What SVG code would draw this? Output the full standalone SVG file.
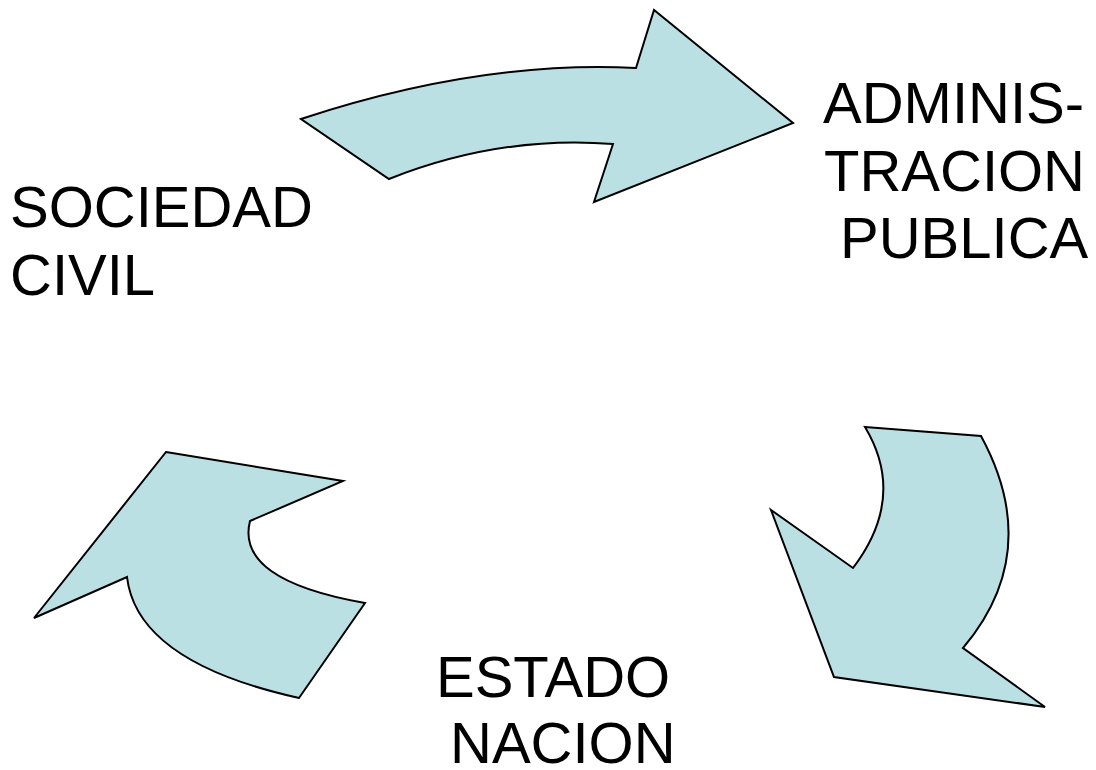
<svg xmlns="http://www.w3.org/2000/svg" width="1096" height="770" viewBox="0 0 1096 770">
<style>
.arrow{fill:#bbe0e3;stroke:#000;stroke-width:2;stroke-linejoin:miter}
.lbl{font-family:"Liberation Sans",Arial,sans-serif;font-size:58px;fill:#000}
</style>
<rect width="1096" height="770" fill="#fff"/>
<g id="connectors">
<path id="arrow-top" class="arrow" d="M301,119 Q480,60 636,68 L654,10 L793,123 L594,202 L613,144 Q500,135 389,179 Z"/>
<path id="arrow-right" class="arrow" d="M865,427 L981,436 Q1044,552 963,648 L1045,707 L834,677 L771,510 L853,568 Q907,497 865,427 Z"/>
<path id="arrow-left" class="arrow" d="M166,452 L343,481 L250,521 Q235,580 365,603 L299,698 Q137,662 127,577 L34,618 Z"/>
</g>
<g id="sociedad-civil">
<text class="lbl" x="10" y="227">SOCIEDAD</text>
<text class="lbl" x="10" y="295">CIVIL</text>
</g>
<g id="administracion-publica">
<text class="lbl" x="823" y="123">ADMINIS-</text>
<text class="lbl" x="824" y="191">TRACION</text>
<text class="lbl" x="840" y="258">PUBLICA</text>
</g>
<g id="estado-nacion">
<text class="lbl" x="436" y="697">ESTADO</text>
<text class="lbl" x="450" y="763">NACION</text>
</g>
</svg>
